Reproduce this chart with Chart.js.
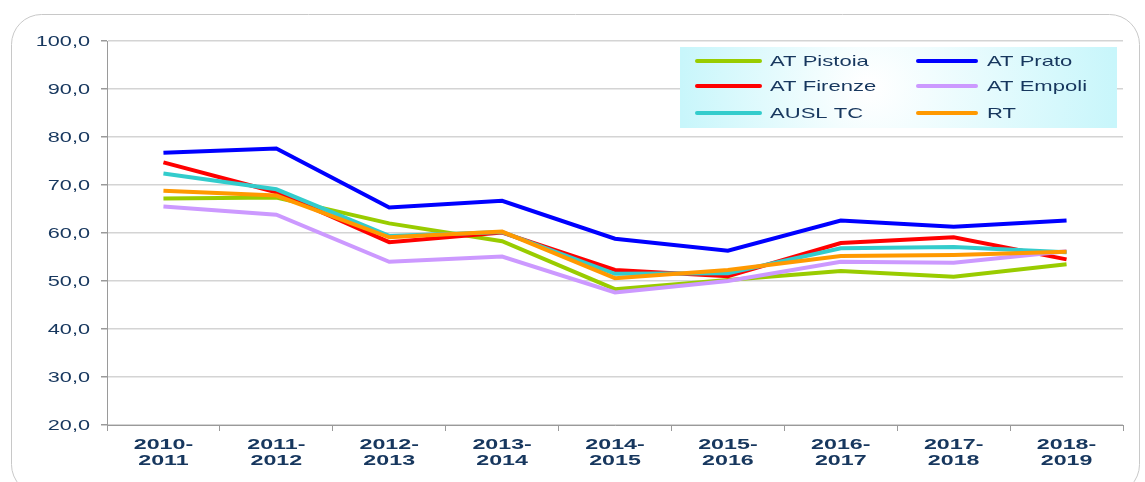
<!DOCTYPE html>
<html>
<head>
<meta charset="utf-8">
<script src="https://cdn.jsdelivr.net/npm/chart.js@4"></script>
<style>
  html, body { margin: 0; padding: 0; background: #fff; }
  #wrap { width: 1145px; height: 482px; }
</style>
</head>
<body>
<div id="wrap"><canvas id="grafico" width="1145" height="482"></canvas></div>
<script>
// Dati
const anni = [['2010-', '2011'], ['2011-', '2012'], ['2012-', '2013'], ['2013-', '2014'], ['2014-', '2015'],
              ['2015-', '2016'], ['2016-', '2017'], ['2017-', '2018'], ['2018-', '2019']];
const atPistoia = [67.2, 67.4, 62.0, 58.3, 48.3, 50.2, 52.1, 50.9, 53.5];
const atPrato   = [76.7, 77.6, 65.3, 66.7, 58.8, 56.3, 62.6, 61.3, 62.6];
const atFirenze = [74.7, 68.5, 58.1, 60.1, 52.3, 51.0, 57.9, 59.1, 54.5];
const atEmpoli  = [65.5, 63.8, 54.0, 55.1, 47.6, 50.0, 54.0, 53.8, 56.2];
const auslTC    = [72.4, 69.1, 59.4, 60.2, 51.5, 51.6, 56.8, 57.1, 56.0];
const rt        = [68.8, 67.8, 59.1, 60.3, 50.6, 52.3, 55.2, 55.4, 56.1];
const yTicks = [20, 30, 40, 50, 60, 70, 80, 90, 100];

const blu = '#17375E';
const FONT = '"Liberation Sans", Arial, sans-serif';

function serie(label, data, colore, ordine) {
    return { label: label, data: data, borderColor: colore, backgroundColor: colore,
             borderWidth: 4, pointRadius: 0, tension: 0, fill: false, order: ordine };
}

// scrive un testo allargato orizzontalmente (il testo originale è stirato)
function testoLargo(c, testo, x, y, align, largo) {
    c.save();
    c.translate(x, y);
    c.scale(largo, 1);
    c.textAlign = align;
    c.textBaseline = 'middle';
    c.fillText(testo, 0, 0);
    c.restore();
}

// cornice arrotondata dietro al grafico
const cornice = {
    id: 'cornice',
    beforeDraw(chart) {
        const c = chart.ctx;
        c.save();
        c.strokeStyle = '#c8c8c8';
        c.lineWidth = 1;
        c.beginPath();
        c.roundRect(11.5, 14.5, 1128, 480, 30);
        c.stroke();
        c.restore();
    }
};

// etichette degli assi, posizionate con le scale di Chart.js
const etichette = {
    id: 'etichette',
    afterDraw(chart) {
        const c = chart.ctx;
        const sx = chart.scales.x, sy = chart.scales.y;
        c.save();
        c.fillStyle = blu;
        c.font = '14px ' + FONT;
        sy.ticks.forEach((t, i) => {
            testoLargo(c, t.value.toFixed(1).replace('.', ','), 90, sy.getPixelForTick(i) + 1, 'right', 1.55);
        });
        c.font = 'bold 15px ' + FONT;
        chart.data.labels.forEach((lab, i) => {
            const x = sx.getPixelForTick(i);
            testoLargo(c, lab[0], x, 445, 'center', 1.55);
            testoLargo(c, lab[1], x, 461, 'center', 1.55);
        });
        c.restore();
    }
};

// legenda in riquadro azzurro, due colonne
const legenda = {
    id: 'legenda',
    afterDraw(chart) {
        const c = chart.ctx;
        const x0 = 680, y0 = 47, w = 437, h = 81;
        c.save();
        const g = c.createRadialGradient(x0 + w / 2 - 30, y0 + h / 2, 5, x0 + w / 2, y0 + h / 2, w / 2);
        g.addColorStop(0, '#ffffff');
        g.addColorStop(1, '#c8f6fb');
        c.fillStyle = g;
        c.fillRect(x0, y0, w, h);
        c.font = '15px ' + FONT;
        const cols = [[697, 760, 770], [918, 976, 987]];
        const rows = [61, 86, 113];
        chart.data.datasets.forEach((ds, i) => {
            const col = cols[i % 2], ry = rows[Math.floor(i / 2)];
            c.strokeStyle = ds.borderColor;
            c.lineWidth = 4;
            c.lineCap = 'round';
            c.beginPath();
            c.moveTo(col[0], ry);
            c.lineTo(col[1], ry);
            c.stroke();
            c.fillStyle = blu;
            testoLargo(c, ds.label, col[2], ry + 1, 'left', 1.47);
        });
        c.restore();
    }
};

const ctx = document.getElementById('grafico').getContext('2d');
new Chart(ctx, {
    type: 'line',
    data: {
        labels: anni,
        datasets: [
            serie('AT Pistoia', atPistoia, '#99CC00', 6),
            serie('AT Prato', atPrato, '#0000FF', 5),
            serie('AT Firenze', atFirenze, '#FF0000', 4),
            serie('AT Empoli', atEmpoli, '#CC99FF', 3),
            serie('AUSL TC', auslTC, '#33CCCC', 2),
            serie('RT', rt, '#FF9900', 1)
        ]
    },
    options: {
        responsive: false,
        animation: false,
        layout: { padding: { left: 0, right: 22, top: 41, bottom: 0 } },
        plugins: { legend: { display: false }, tooltip: { enabled: false } },
        scales: {
            x: {
                offset: true,
                afterFit(s) { s.height = 57; },
                grid: { drawOnChartArea: false, offset: true, tickLength: 6, color: '#9a9a9a' },
                border: { color: '#9a9a9a' },
                ticks: { display: false }
            },
            y: {
                min: 20, max: 100,
                afterFit(s) { s.width = 107; },
                afterBuildTicks(s) { s.ticks = yTicks.map(v => ({ value: v })); },
                grid: { color: '#d4d4d4', lineWidth: 1.5, tickLength: 6, tickColor: '#9a9a9a' },
                border: { color: '#9a9a9a' },
                ticks: { display: false }
            }
        }
    },
    plugins: [cornice, etichette, legenda]
});
</script>
</body>
</html>
